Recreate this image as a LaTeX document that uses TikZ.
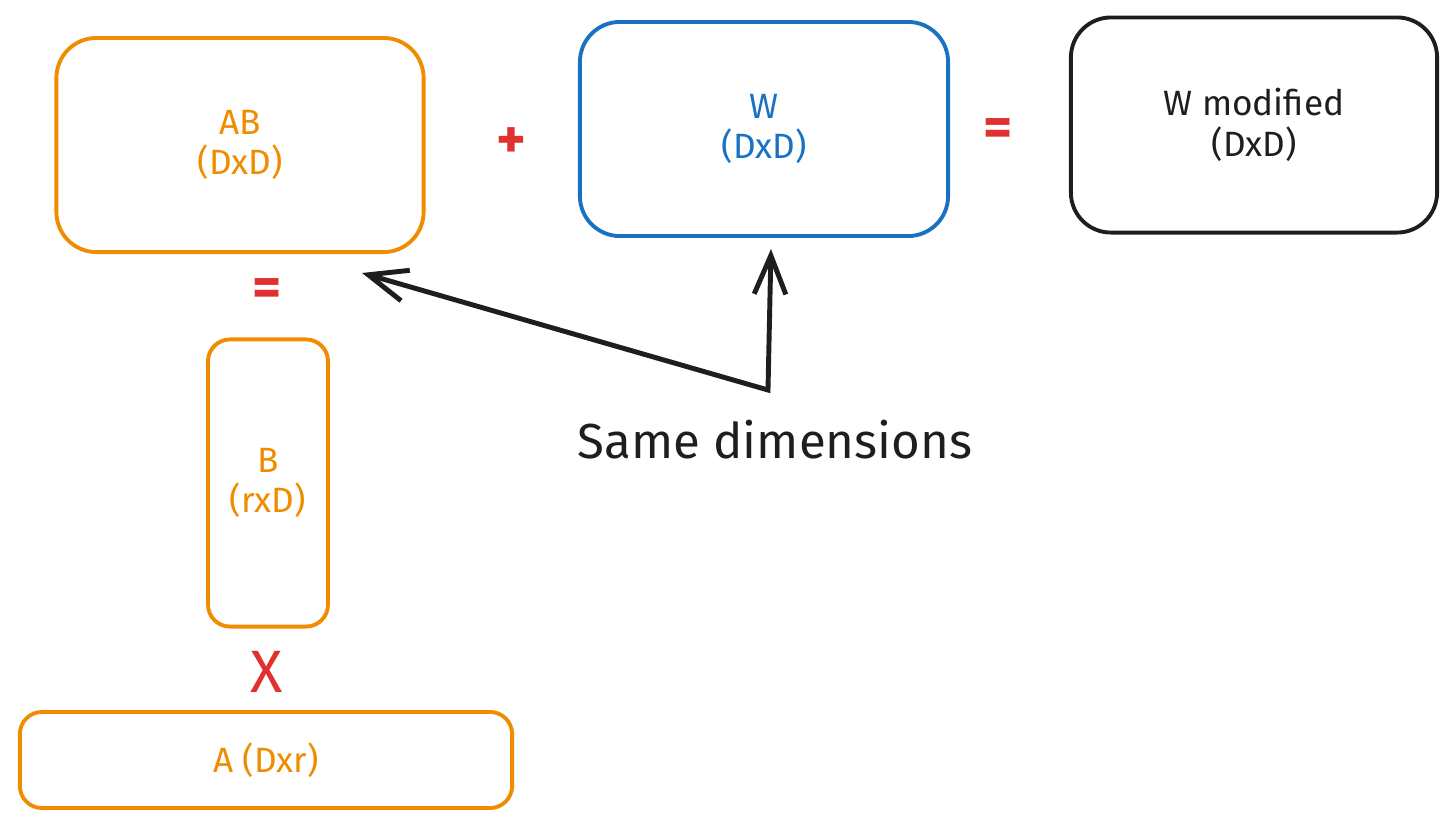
\documentclass[tikz,border=0pt]{standalone}
\usepackage{fontspec}
\setmainfont{Fira Sans}
\usepackage{xcolor}
\usepackage{tikz}
\definecolor{sketchorange}{RGB}{240, 140, 0}
\definecolor{sketchblue}{RGB}{25, 113, 194}
\definecolor{sketchred}{RGB}{224, 49, 49}
\definecolor{sketchblack}{RGB}{30, 30, 30}
\usetikzlibrary{arrows.meta, positioning}

\begin{document}
\begin{tikzpicture}[
    x=0.01cm, y=-0.01cm,
    matbox/.style={rectangle, draw, line width=1.1pt, rounded corners=0.4cm,
                   align=center, font=\fontsize{10}{11.5}\selectfont},
    slimbox/.style={matbox, rounded corners=0.22cm},
    op/.style={text=sketchred, font=\fontsize{16}{16}\selectfont\bfseries},
    pointer/.style={line width=1.4pt, draw=sketchblack,
                    {Straight Barb[length=11pt,width=9pt]}-{Straight Barb[length=11pt,width=9pt]}}
]
    \useasboundingbox (0,0) rectangle (1456,827);

    % Matrices
    \node[matbox, draw=sketchorange, text=sketchorange,
          minimum width=3.67cm, minimum height=2.14cm] (ab) at (240,145) {AB\\(DxD)};
    \node[matbox, draw=sketchblue, text=sketchblue,
          minimum width=3.68cm, minimum height=2.14cm] (w) at (764,129) {W\\(DxD)};
    \node[matbox, draw=sketchblack, text=sketchblack,
          minimum width=3.66cm, minimum height=2.15cm] (wmod) at (1254,125) {W modified\\(DxD)};
    \node[slimbox, draw=sketchorange, text=sketchorange,
          minimum width=1.20cm, minimum height=2.87cm] (b) at (268,483) {B\\(rxD)};
    \node[slimbox, draw=sketchorange, text=sketchorange,
          minimum width=4.92cm, minimum height=0.96cm] (a) at (266,760) {A (Dxr)};

    % Operators
    \node[op] (plus) at (511,143) {+};
    \node[op] (eqw) at (998,133) {=};
    \node[op] (eqab) at (267,293) {=};
    \node[op, font=\fontsize{17}{17}\selectfont] (times) at (267,672) {X};

    % Same dimensions
    \coordinate (tipab) at (362,273);
    \coordinate (tipw) at (771,249);
    \coordinate (fork) at (768,390);
    \node[text=sketchblack, font=\fontsize{14}{14}\selectfont] (note) at (775,440) {Same dimensions};
    \draw[pointer] (tipab) -- (fork) -- (tipw);
\end{tikzpicture}
\end{document}
